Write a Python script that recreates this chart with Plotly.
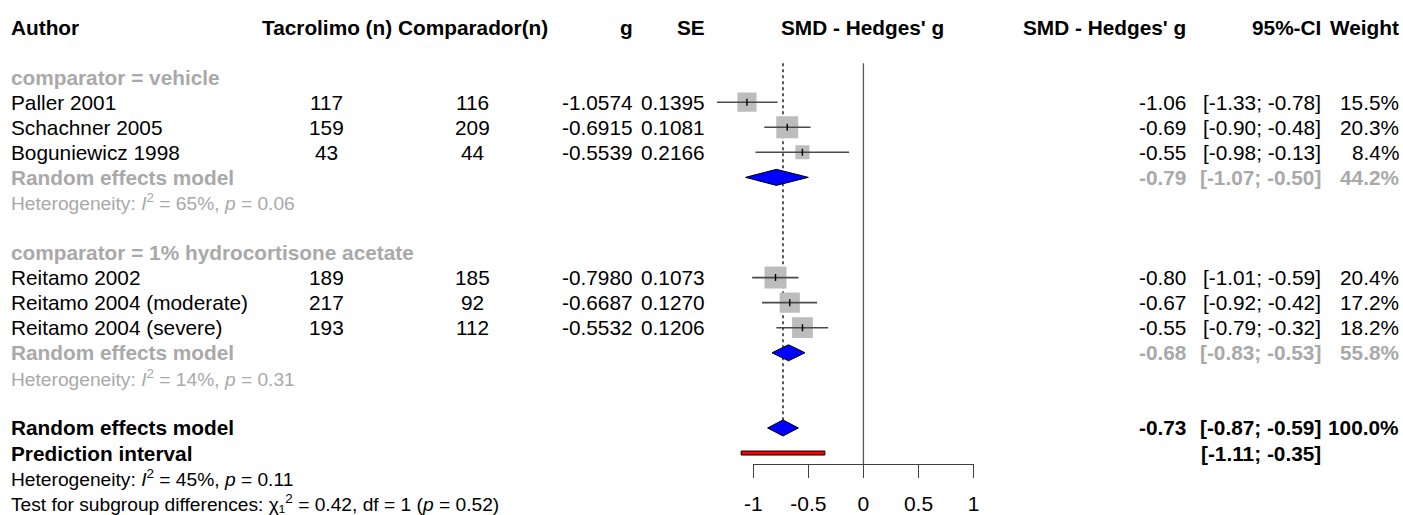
import numpy as np
import plotly.graph_objects as go

# ---------------- data ----------------
studies = ["Paller 2001", "Schachner 2005", "Boguniewicz 1998",
           "Reitamo 2002", "Reitamo 2004 (moderate)", "Reitamo 2004 (severe)"]
study_group = [0, 0, 0, 1, 1, 1]
n_tacrolimo = [117, 159, 43, 189, 217, 193]
n_comparator = [116, 209, 44, 185, 92, 112]
g_values = [-1.0574, -0.6915, -0.5539, -0.7980, -0.6687, -0.5532]
se_values = [0.1395, 0.1081, 0.2166, 0.1073, 0.1270, 0.1206]
ci_low = [-1.33, -0.90, -0.98, -1.01, -0.92, -0.79]
ci_high = [-0.78, -0.48, -0.13, -0.59, -0.42, -0.32]
weights = [15.5, 20.3, 8.4, 20.4, 17.2, 18.2]

group_labels = ["comparator = vehicle", "comparator = 1% hydrocortisone acetate"]
group_est = [-0.79, -0.68]
group_low = [-1.07, -0.83]
group_high = [-0.50, -0.53]
group_weight = [44.2, 55.8]
group_i2 = ["65%", "14%"]
group_p = ["0.06", "0.31"]

overall_est, overall_low, overall_high, overall_weight = -0.73, -0.87, -0.59, 100.0
pred_low, pred_high = -1.11, -0.35
overall_i2, overall_p = "45%", "0.11"
test_chi2, test_df, test_p = "0.42", "1", "0.52"

tick_vals = [-1, -0.5, 0, 0.5, 1]
tick_text = ["-1", "-0.5", "0", "0.5", "1"]

# ---------------- layout geometry ----------------
W, H = 1403, 515
ROW0, ROWH = 27.0, 25.06          # pixel centre of row 0, row height
AX_Y = 464.0                      # pixel of x-axis line
X0PX, UNIT = 863.65, 111.35       # pixel of value 0, pixels per unit
FONT = "Liberation Sans, Arial, sans-serif"
GRAY = "#A9A9A9"
FS = 20.8
FS_HET = 19.2


def px2row(py):
    return (py - ROW0) / ROWH


def row2paper(r):
    return 1 - (ROW0 + ROWH * r) / H


def v2px(v):
    return X0PX + UNIT * v


# row assignment
row_header = 0
rows_study = []
row_group_label, row_group_rem, row_group_het = [], [], []
r = 2
for gi in range(2):
    row_group_label.append(r)
    r += 1
    for si, sg in enumerate(study_group):
        if sg == gi:
            rows_study.append(r)
            r += 1
    row_group_rem.append(r)
    row_group_het.append(r + 1)
    r += 3
row_overall = r
row_pred = r + 1
row_het = r + 2
row_test = r + 3

y_top = px2row(0)
y_bottom = px2row(AX_Y)
line_top = 1.45

fig = go.Figure()

# zero line and dotted overall line (visible axis subplot)
fig.add_trace(go.Scatter(x=[0, 0], y=[line_top, y_bottom], mode="lines",
                         line=dict(color="#5a5a5a", width=1.3),
                         xaxis="x", yaxis="y", hoverinfo="skip"))
fig.add_trace(go.Scatter(x=[overall_est, overall_est], y=[line_top, row_overall], mode="lines",
                         line=dict(color="black", width=1.3, dash="dot"),
                         xaxis="x", yaxis="y", hoverinfo="skip"))

# squares
fig.add_trace(go.Scatter(x=g_values, y=rows_study, mode="markers",
                         marker=dict(symbol="square", color="#BDBDBD", opacity=1,
                                     size=[4.87 * np.sqrt(w) for w in weights],
                                     line=dict(width=0)),
                         xaxis="x2", yaxis="y", hoverinfo="skip"))

# CI lines
cx, cy = [], []
for lo, hi, rr in zip(ci_low, ci_high, rows_study):
    cx += [lo, hi, None]
    cy += [rr, rr, None]
fig.add_trace(go.Scatter(x=cx, y=cy, mode="lines", line=dict(color="#4a4a4a", width=1.6),
                         xaxis="x2", yaxis="y", hoverinfo="skip"))
# centre ticks
tx, ty = [], []
for gv, rr in zip(g_values, rows_study):
    tx += [gv, gv, None]
    ty += [rr - 0.14, rr + 0.14, None]
fig.add_trace(go.Scatter(x=tx, y=ty, mode="lines", line=dict(color="black", width=1.4),
                         xaxis="x2", yaxis="y", hoverinfo="skip"))

# diamonds
DH = 0.32
for est, lo, hi, rr in list(zip(group_est, group_low, group_high, row_group_rem)) + \
        [(overall_est, overall_low, overall_high, row_overall)]:
    fig.add_trace(go.Scatter(x=[lo, est, hi, est, lo], y=[rr, rr - DH, rr, rr + DH, rr],
                             mode="lines", fill="toself", fillcolor="#0000FF",
                             line=dict(color="black", width=1),
                             xaxis="x2", yaxis="y", hoverinfo="skip"))

# prediction interval
PH = 0.08
fig.add_trace(go.Scatter(x=[pred_low, pred_high, pred_high, pred_low, pred_low],
                         y=[row_pred - PH, row_pred - PH, row_pred + PH, row_pred + PH, row_pred - PH],
                         mode="lines", fill="toself", fillcolor="#FF0000",
                         line=dict(color="black", width=1),
                         xaxis="x2", yaxis="y", hoverinfo="skip"))

# ---------------- text ----------------
ann = []
SHIFT = {"left": -10, "right": 6, "center": -5}


def txt(s, xpx, row, anchor="left", bold=False, color="black", size=FS):
    if bold:
        s = "<b>" + s + "</b>"
    ann.append(dict(text=s, x=(xpx + SHIFT[anchor]) / W, y=row2paper(row), xref="paper", yref="paper",
                    xanchor=anchor, yanchor="middle", showarrow=False, borderpad=0,
                    font=dict(family=FONT, size=size, color=color)))


X_AUTH, X_TAC, X_COMP, X_G, X_SE = 11, 326, 474, 626, 699
X_EST, X_CI, X_W = 1185, 1321, 1400

# headers
txt("Author", X_AUTH, row_header, "left", True)
txt("Tacrolimo (n)", X_TAC, row_header, "center", True)
txt("Comparador(n)", X_COMP, row_header, "center", True)
txt("g", X_G, row_header, "right", True)
txt("SE", X_SE, row_header, "right", True)
txt("SMD - Hedges' g", v2px(0) + 4, row_header, "center", True)
txt("SMD - Hedges' g", X_EST, row_header, "right", True)
txt("95%-CI", X_CI, row_header, "right", True)
txt("Weight", X_W, row_header, "right", True)

for gi in range(2):
    txt(group_labels[gi], X_AUTH, row_group_label[gi], "left", True, GRAY)
    for k, sg in enumerate(study_group):
        if sg != gi:
            continue
        rr = rows_study[k]
        txt(studies[k], X_AUTH, rr)
        txt(str(n_tacrolimo[k]), X_TAC, rr, "center")
        txt(str(n_comparator[k]), X_COMP, rr, "center")
        txt(f"{g_values[k]:.4f}", X_G, rr, "right")
        txt(f"{se_values[k]:.4f}", X_SE, rr, "right")
        txt(f"{g_values[k]:.2f}", X_EST, rr, "right")
        txt(f"[{ci_low[k]:.2f}; {ci_high[k]:.2f}]", X_CI, rr, "right")
        txt(f"{weights[k]:.1f}%", X_W, rr, "right")
    rr = row_group_rem[gi]
    txt("Random effects model", X_AUTH, rr, "left", True, GRAY)
    txt(f"{group_est[gi]:.2f}", X_EST, rr, "right", True, GRAY)
    txt(f"[{group_low[gi]:.2f}; {group_high[gi]:.2f}]", X_CI, rr, "right", True, GRAY)
    txt(f"{group_weight[gi]:.1f}%", X_W, rr, "right", True, GRAY)
    txt(f"Heterogeneity: <i>I</i><sup>2</sup> = {group_i2[gi]}, <i>p</i> = {group_p[gi]}",
        X_AUTH, row_group_het[gi], "left", False, GRAY, FS_HET)

txt("Random effects model", X_AUTH, row_overall, "left", True)
txt(f"{overall_est:.2f}", X_EST, row_overall, "right", True)
txt(f"[{overall_low:.2f}; {overall_high:.2f}]", X_CI, row_overall, "right", True)
txt(f"{overall_weight:.1f}%", X_W, row_overall, "right", True)
txt("Prediction interval", X_AUTH, row_pred, "left", True)
txt(f"[{pred_low:.2f}; {pred_high:.2f}]", X_CI, row_pred, "right", True)
txt(f"Heterogeneity: <i>I</i><sup>2</sup> = {overall_i2}, <i>p</i> = {overall_p}",
    X_AUTH, row_het, "left", False, "black", FS_HET)
txt(f"Test for subgroup differences: χ₁<sup>2</sup> = {test_chi2}, df = {test_df} (<i>p</i> = {test_p})",
    X_AUTH, row_test, "left", False, "black", FS_HET)

# ---------------- axes ----------------
x2_left, x2_right = 700.0, 1010.0
fig.update_layout(
    width=W, height=H, margin=dict(l=0, r=0, t=0, b=0),
    paper_bgcolor="white", plot_bgcolor="rgba(0,0,0,0)", showlegend=False,
    annotations=ann,
    xaxis=dict(domain=[v2px(-1) / W, v2px(1) / W], range=[-1, 1], anchor="y",
               tickmode="array", tickvals=tick_vals, ticktext=tick_text,
               ticks="outside", ticklen=13, tickwidth=1, tickcolor="#404040",
               ticklabelstandoff=8,
               showline=True, linecolor="#404040", linewidth=1,
               showgrid=False, zeroline=False,
               tickfont=dict(family=FONT, size=21, color="black")),
    xaxis2=dict(domain=[x2_left / W, x2_right / W],
                range=[(x2_left - X0PX) / UNIT, (x2_right - X0PX) / UNIT],
                anchor="y", visible=False, showgrid=False, zeroline=False),
    yaxis=dict(domain=[1 - AX_Y / H, 1], range=[y_bottom, y_top], visible=False,
               showgrid=False, zeroline=False),
)

fig.write_html("out.html")
